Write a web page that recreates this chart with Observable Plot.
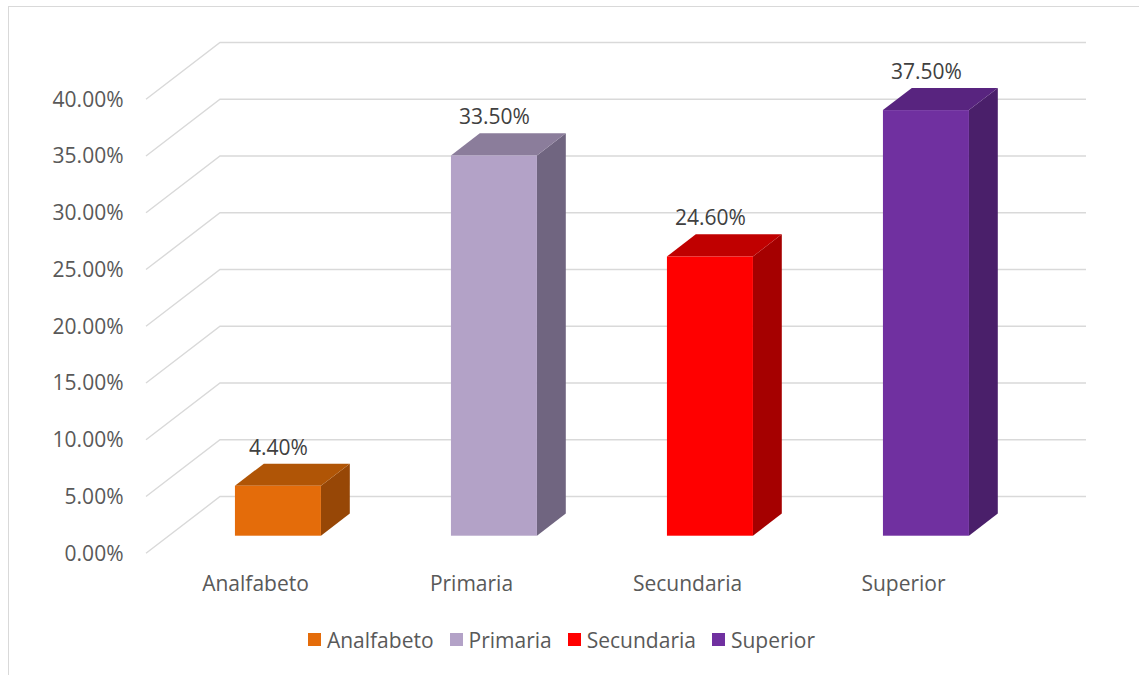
<!DOCTYPE html>
<html>
<head>
<meta charset="utf-8">
<script src="https://cdn.jsdelivr.net/npm/d3@7"></script>
<script src="https://cdn.jsdelivr.net/npm/@observablehq/plot@0.6"></script>
<style>
  body { margin: 0; background: #fff; }
  #wrap { position: relative; width: 1139px; height: 675px; overflow: hidden; background: #fff; }
  #frame { position: absolute; left: 8px; top: 6px; width: 1300px; height: 800px;
           border: 1.5px solid #d9d9d9; box-sizing: border-box; }
  #chart { position: absolute; left: 0; top: 0; }
  #legend { position: absolute; left: 0; top: 623px; width: 1123px; display: flex; justify-content: center; }
  #legend .lg-swatches { font-family: "Open Sans", sans-serif !important; font-size: 21px !important;
                         color: #595959 !important; margin: 0 !important; }
  #legend .lg-swatch { margin-right: 16px !important; }
  #legend .lg-swatch:last-child { margin-right: 0 !important; }
  #legend .lg-swatch > svg { margin-right: 6px !important; }
</style>
</head>
<body>
<div id="wrap">
  <div id="frame"></div>
  <div id="chart"></div>
  <div id="legend"></div>
</div>
<script>
// ---- data ----
const categories = ["Analfabeto", "Primaria", "Secundaria", "Superior"];
const values = [0.044, 0.335, 0.246, 0.375];
const frontColors = ["#E46C0A", "#B3A2C7", "#FF0000", "#7030A0"];
const topColors = ["#B05506", "#8B7D9B", "#C00000", "#58247F"];
const sideColors = ["#974706", "#706580", "#A50000", "#4A1F6A"];
const yTicks = [0, 0.05, 0.10, 0.15, 0.20, 0.25, 0.30, 0.35, 0.40];

const rows = categories.map((c, i) => ({
  cat: c, value: values[i], front: frontColors[i], top: topColors[i], side: sideColors[i]
}));

// ---- 3D geometry (pixels) ----
const DX = 74, DY = -56.75;   // floor depth vector
const Z0 = 0.31, Z1 = 0.70;   // bar depth span (fraction of floor depth)
const W = 1139, H = 610;
const fmt = d3.format(".2%");

function gridRender(index, scales, vals, dims) {
  const {y} = scales;
  const g = d3.create("svg:g");
  const xl = dims.marginLeft, xr = dims.width - dims.marginRight;
  for (const t of yTicks) {
    const yy = y(t);
    g.append("path")
      .attr("d", `M${xl},${yy}L${xl + DX},${yy + DY}L${xr + DX},${yy + DY}`)
      .attr("fill", "none").attr("stroke", "#d9d9d9").attr("stroke-width", 1.4);
  }
  return g.node();
}

function cubeRender(index, scales, vals, dims) {
  const {x, y} = scales;
  const bw = x.bandwidth ? x.bandwidth() : scales.scales.x.bandwidth;
  const g = d3.create("svg:g");
  const bx = (Z1 - Z0) * DX, by = (Z1 - Z0) * DY;
  for (const i of index) {
    const r = rows[i];
    const x0 = x(r.cat) + Z0 * DX, x1 = x0 + bw;
    const yb = y(0) + Z0 * DY, yt = y(r.value) + Z0 * DY;
    g.append("polygon")
      .attr("points", [[x1, yt], [x1 + bx, yt + by], [x1 + bx, yb + by], [x1, yb]].join(" "))
      .attr("fill", r.side);
    g.append("polygon")
      .attr("points", [[x0, yt], [x1, yt], [x1 + bx, yt + by], [x0 + bx, yt + by]].join(" "))
      .attr("fill", r.top);
    g.append("rect")
      .attr("x", x0).attr("y", yt).attr("width", bw).attr("height", yb - yt)
      .attr("fill", r.front);
  }
  return g.node();
}

const chart = Plot.plot({
  width: W,
  height: H,
  marginLeft: 146,
  marginRight: 127,
  marginTop: 99.3,
  marginBottom: H - 553.3,
  style: { fontFamily: "Open Sans, sans-serif", fontSize: "21px", background: "transparent", overflow: "visible" },
  x: { type: "band", domain: categories, paddingInner: 0.6, paddingOuter: 0.3, axis: null, label: null },
  y: { domain: [0, 0.40], axis: null, label: null },
  marks: [
    Plot.ruleY(yTicks, { render: gridRender }),
    Plot.axisY(yTicks, { tickFormat: fmt, tickSize: 0, tickPadding: 23, color: "#595959", fontSize: 21, label: null }),
    Plot.axisX({ tickSize: 0, tickPadding: 22, color: "#595959", fontSize: 21, label: null }),
    Plot.barY(rows, { x: "cat", y: "value", render: cubeRender }),
    Plot.text(rows, { x: "cat", y: "value", text: d => fmt(d.value), dx: Z0 * DX, dy: -56,
                      fill: "#404040", fontSize: 21 })
  ]
});
document.getElementById("chart").appendChild(chart);

const legend = Plot.legend({
  color: { type: "ordinal", domain: categories, range: frontColors },
  swatchSize: 13,
  className: "lg"
});
document.getElementById("legend").appendChild(legend);
</script>
</body>
</html>
